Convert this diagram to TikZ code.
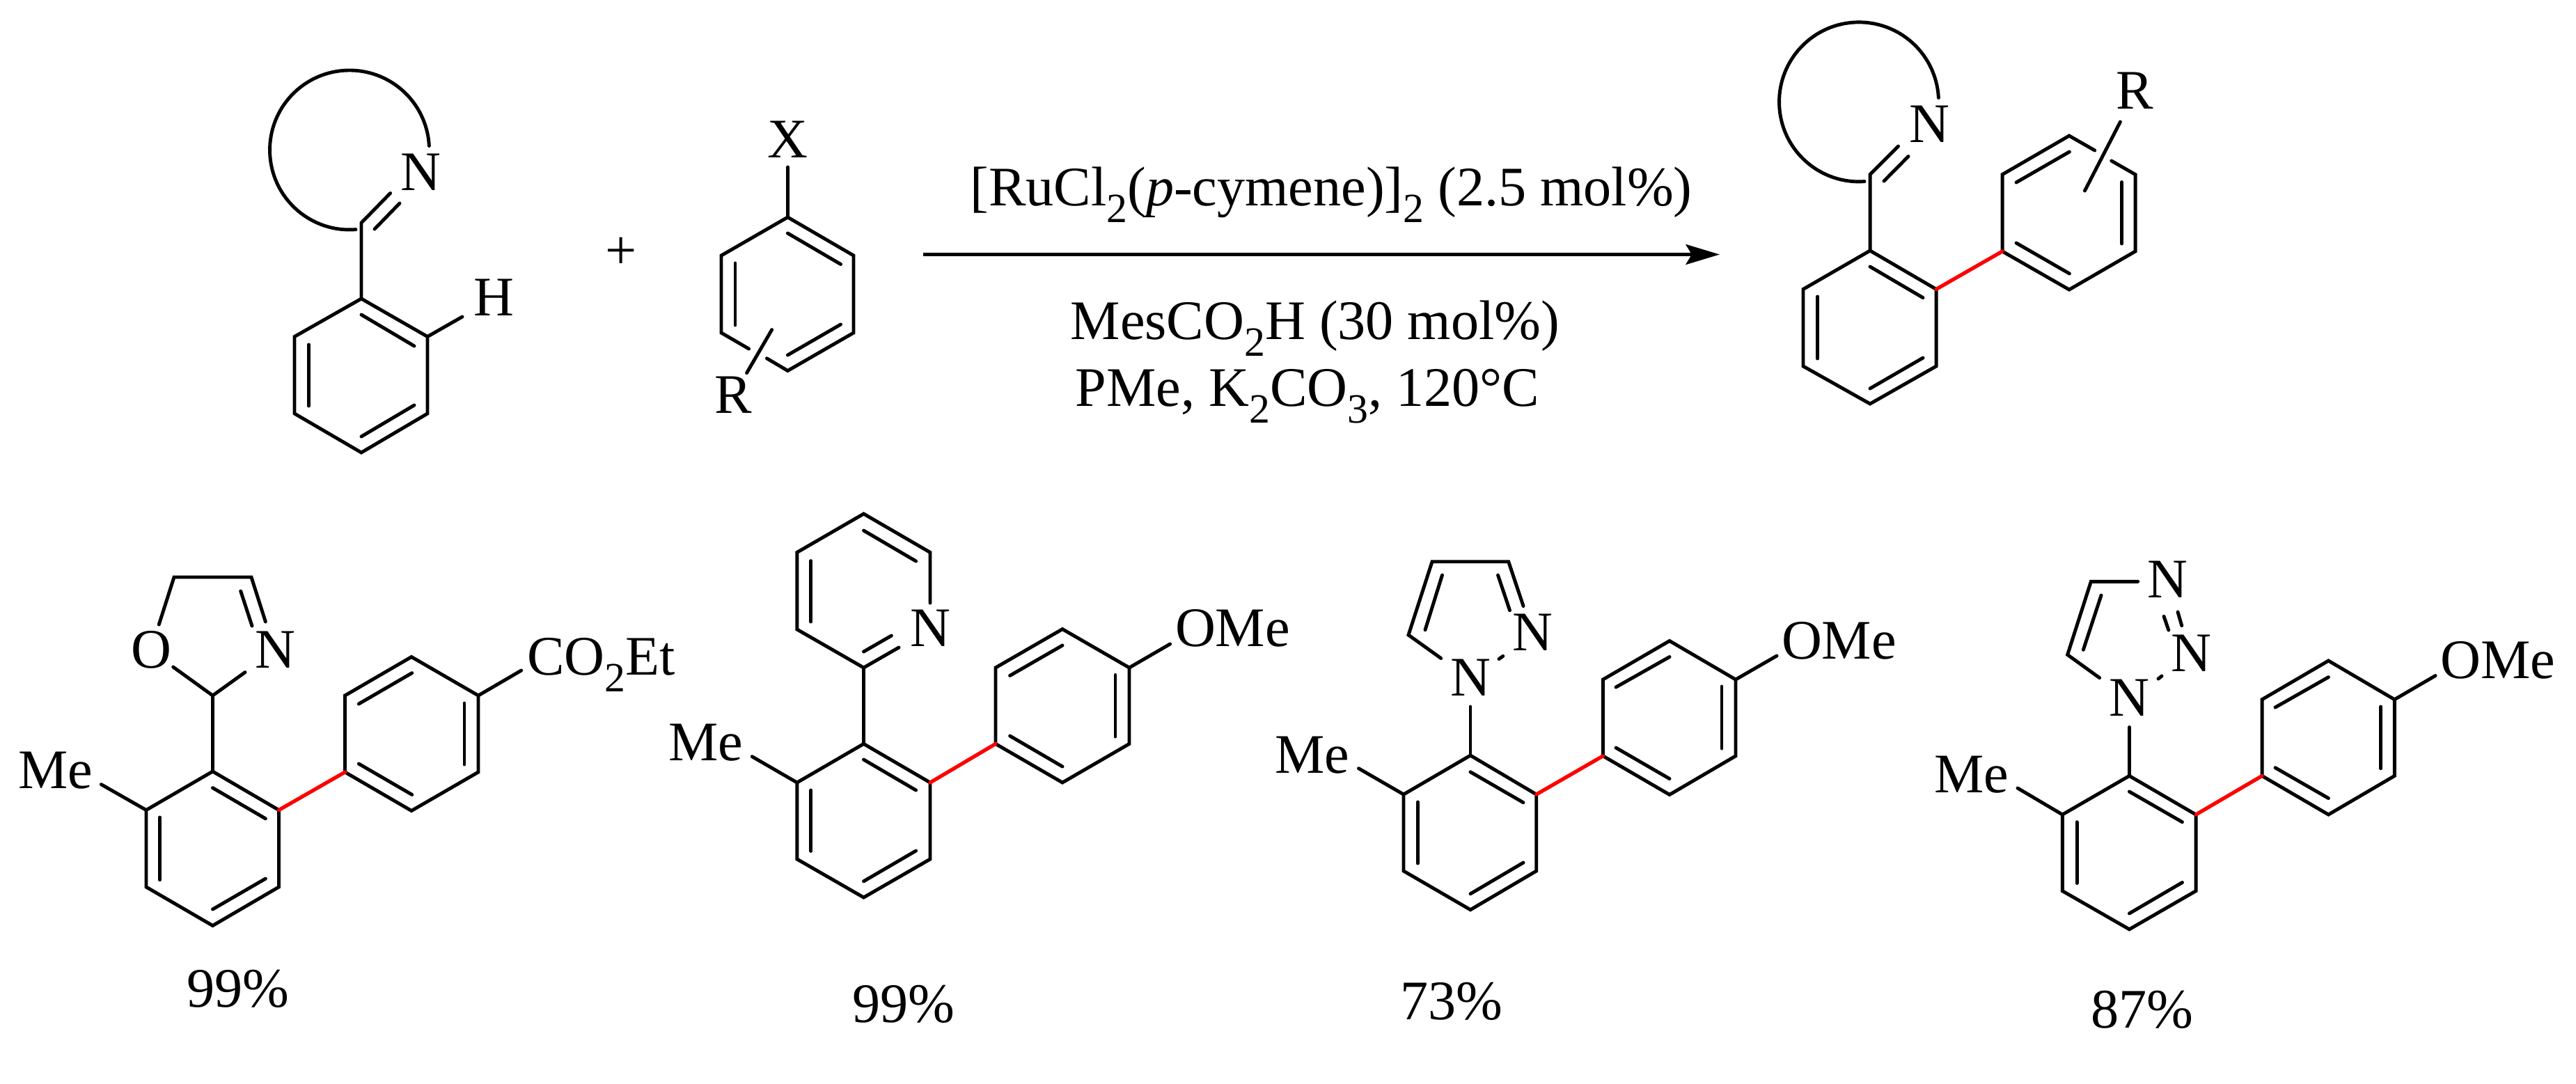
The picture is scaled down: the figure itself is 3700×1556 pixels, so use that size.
\documentclass[tikz,border=0pt]{standalone}
\usepackage{fontspec}
\setmainfont{Liberation Serif}
\usetikzlibrary{arrows.meta}
\newcommand\cc[3]{\coordinate (#1) at (#2,-#3);}
\newcommand\chemsub[1]{\raisebox{-0.31em}{\fontsize{17}{17}\selectfont #1}}
% hexagon: prefix xl xm xr; y top, y upper, y lower, y bottom
\newcommand\ring[8]{%
 \cc{#1t}{#3}{#5}\cc{#1ur}{#4}{#6}\cc{#1lr}{#4}{#7}\cc{#1b}{#3}{#8}\cc{#1ll}{#2}{#7}\cc{#1ul}{#2}{#6}%
 \draw[bond] (#1t)--(#1ur)--(#1lr)--(#1b)--(#1ll)--(#1ul)--cycle;}
\newcommand\inb[5]{\cc{#1a}{#2}{#3}\cc{#1b}{#4}{#5}\draw[bond] (#1a)--(#1b);}
\begin{document}
\begin{tikzpicture}[x=0.01cm,y=0.01cm,
  bond/.style={line width=1.4pt,line cap=round,line join=miter,black},
  redbond/.style={line width=1.5pt,line cap=round,red},
  lab/.style={inner sep=0pt,outer sep=0pt,anchor=base,font=\fontsize{22.8}{26}\selectfont},
  labw/.style={lab,anchor=base west},
  rxnarrow/.style={line width=1.5pt,-{Stealth[length=13.8pt,width=8.2pt,inset=2.4pt]}}]
\useasboundingbox (0,0) rectangle (3700,-1556);
\fill[white] (0,0) rectangle (3700,-1556);

% ===== Reagent 1
\ring{a}{423}{519}{614}{429}{483.5}{594}{650}
\cc{ai}{519}{320}\cc{an}{560.6}{277.5}\cc{ah}{664}{455}
\draw[bond] (at)--(ai)--(an);
\draw[bond] (aur)--(ah);
\inb{ad1}{519}{452}{595}{497}
\inb{ad2}{443.5}{495}{443.5}{583}
\inb{ad3}{519}{627}{595}{582}
\inb{ad4}{538}{329}{574}{292}
\cc{aarc}{511}{329.6}
\draw[bond] (aarc) arc[start angle=274.5,delta angle=-271.5,radius=114.5];
\node[lab] (aN) at (604,-273) {N};
\node[lab] (aH) at (709,-453) {H};
\node[lab] (plus) at (892,-386) {+};

% ===== Reagent 2
\cc{bt}{1131.4}{312}\cc{bur}{1226}{367}\cc{blr}{1226}{478}\cc{bb}{1131.4}{532.5}\cc{bll}{1036}{478}\cc{bul}{1036}{367}
\cc{bg1}{1075.6}{501}\cc{bg2}{1101.4}{514.7}\cc{bx}{1131.4}{240}
\draw[bond] (bg1)--(bll)--(bul)--(bt)--(bur)--(blr)--(bb)--(bg2);
\draw[bond] (bt)--(bx);
\inb{bd1}{1131.4}{335}{1207.5}{379.5}
\inb{bd2}{1056}{378}{1056}{467}
\inb{bd3}{1131.4}{510}{1207.5}{466}
\inb{br}{1108.6}{473.6}{1072.6}{535.6}
\node[lab] (bX) at (1131,-226) {X};
\node[lab] (bR) at (1053,-593) {R};

% ===== Arrow and conditions
\cc{arS}{1326}{365.5}\cc{arE}{2470}{365.5}
\draw[rxnarrow] (arS)--(arE);
\node[lab] (c1) at (1912,-295) {[RuCl\chemsub{2}(\textit{p}-cymene)]\chemsub{2} (2.5 mol\%)};
\node[lab] (c2) at (1889,-487) {MesCO\chemsub{2}H (30 mol\%)};
\node[lab] (c3) at (1878,-583) {PMe, K\chemsub{2}CO\chemsub{3}, 120°C};

% ===== Product
\ring{p}{2590}{2686}{2781}{360}{415.4}{526}{580}
\cc{pi}{2686}{250.6}\cc{pn}{2726.5}{210}
\draw[bond] (pt)--(pi)--(pn);
\inb{pd1}{2686}{383}{2762}{427.6}
\inb{pd2}{2610.7}{426}{2610.7}{515}
\inb{pd3}{2686}{558}{2762}{514}
\inb{pd4}{2706}{260}{2741}{224.6}
\cc{parc}{2678}{260.6}
\draw[bond] (parc) arc[start angle=274,delta angle=-271,radius=114.5];
\cc{qt}{2972}{195}\cc{qur}{3067}{250.6}\cc{qlr}{3067}{361}\cc{qb}{2972}{416}\cc{qll}{2876}{361}\cc{qul}{2876}{250.6}
\cc{qg1}{3008.7}{216}\cc{qg2}{3032.7}{231}
\draw[bond] (qg1)--(qt)--(qul)--(qll)--(qb)--(qlr)--(qur)--(qg2);
\draw[redbond] (pur)--(qll);
\inb{qd1}{2896}{262}{2972.4}{218}
\inb{qd2}{2896}{349}{2972.4}{393}
\inb{qd3}{3047.4}{261.5}{3047.4}{350}
\inb{qr}{3045.4}{175}{2994.4}{274}
\node[lab] (pN) at (2771,-204) {N};
\node[lab] (pR) at (3066,-156) {R};

% ===== Compound 1 (oxazoline)
\ring{d}{210}{305.5}{400.5}{1108}{1163.5}{1274}{1329.5}
\cc{dc}{305.5}{999}\cc{dox}{248.7}{958}\cc{dnx}{352}{965.6}
\cc{do1}{228.3}{897}\cc{do2}{250}{829}\cc{do3}{361}{829}\cc{do4}{381.4}{893}\cc{dme}{145.4}{1126.7}
\draw[bond] (dt)--(dc);
\draw[bond] (dox)--(dc)--(dnx);
\draw[bond] (do1)--(do2)--(do3)--(do4);
\draw[bond] (dul)--(dme);
\inb{dd0}{345.7}{849}{362}{899}
\inb{dd1}{305.5}{1131.6}{381.4}{1175.8}
\inb{dd2}{229.6}{1174}{229.6}{1263.7}
\inb{dd3}{305.5}{1306}{381.4}{1262}
\cc{et}{591}{943.5}\cc{eur}{687}{999}\cc{elr}{687}{1109}\cc{eb}{591}{1164.5}\cc{ell}{495.5}{1109}\cc{eul}{495.5}{999}
\draw[bond] (et)--(eur)--(elr)--(eb)--(ell)--(eul)--cycle;
\draw[redbond] (dur)--(ell);
\inb{ed1}{515.3}{1011}{591.8}{966.6}
\inb{ed2}{515.3}{1097}{591.8}{1141.4}
\inb{ed3}{667}{1010}{667}{1098}
\cc{eco}{748.7}{963}
\draw[bond] (eur)--(eco);
\node[lab] (dO) at (217,-959) {O};
\node[lab] (dN) at (395,-959) {N};
\node[lab] (dMe) at (80,-1132.6) {Me};
\node[labw] (eCO) at (757,-969) {CO\chemsub{2}Et};
\node[lab] (y1) at (342,-1446) {99\%};

% ===== Compound 2 (pyridine)
\ring{f}{1144.8}{1240.5}{1336}{1068.4}{1124}{1234}{1289}
\cc{gb}{1240.5}{959}\cc{gll}{1144.8}{904}\cc{gul}{1144.8}{793.4}\cc{gt}{1240.5}{738}\cc{gur}{1336}{793.4}\cc{gn1}{1336}{866}\cc{gn2}{1291}{930}
\draw[bond] (gn1)--(gur)--(gt)--(gul)--(gll)--(gb)--(gn2);
\draw[bond] (ft)--(gb);
\inb{gd1}{1240.5}{936}{1280.4}{913}
\inb{gd2}{1240.5}{762}{1315.6}{806}
\inb{gd3}{1164.8}{805.6}{1164.8}{893}
\inb{fd1}{1240.5}{1091}{1315.6}{1135}
\inb{fd2}{1164.8}{1135}{1164.8}{1222.4}
\inb{fd3}{1240.5}{1265.8}{1315.6}{1222}
\cc{fme}{1080.3}{1086.7}
\draw[bond] (ful)--(fme);
\ring{h}{1430}{1526}{1622}{903.6}{959}{1068.4}{1124}
\draw[redbond] (fur)--(hll);
\inb{hd1}{1450.6}{970.4}{1526}{927}
\inb{hd2}{1450.6}{1057}{1526}{1101}
\inb{hd3}{1602}{969.4}{1602}{1058}
\cc{home}{1680.6}{925}
\draw[bond] (hur)--(home);
\node[lab] (gN) at (1336,-928) {N};
\node[lab] (fMe) at (1014,-1092) {Me};
\node[labw] (hO) at (1688,-928.6) {OMe};
\node[lab] (y2) at (1298,-1468) {99\%};

% ===== Compound 3 (pyrazole)
\ring{k}{2016}{2112}{2206.7}{1085}{1141}{1251}{1306.7}
\cc{kn}{2112}{1015}\cc{m1}{2069.7}{945.5}\cc{m2}{2023}{912}\cc{m3}{2057}{806.7}\cc{m4}{2166.7}{806.7}\cc{m5}{2188}{870.5}
\draw[bond] (kt)--(kn);
\draw[bond] (m1)--(m2)--(m3)--(m4)--(m5);
\inb{md1}{2047}{904.7}{2071.5}{826}
\inb{md2}{2151.5}{826}{2168.5}{876.6}
\inb{md3}{2153}{946.5}{2158.8}{942.4}
\inb{kd1}{2112}{1108.8}{2188}{1152.7}
\inb{kd2}{2036.4}{1152}{2036.4}{1240}
\inb{kd3}{2112}{1283.8}{2188}{1239}
\cc{kme}{1951.5}{1103.7}
\draw[bond] (kul)--(kme);
\ring{l}{2302.4}{2398}{2493}{920.5}{976}{1085.8}{1141.4}
\draw[redbond] (kur)--(lll);
\inb{ld1}{2321}{987}{2398}{943.5}
\inb{ld2}{2321}{1074}{2398}{1118.5}
\inb{ld3}{2473}{986}{2473}{1075}
\cc{lome}{2552}{942}
\draw[bond] (lur)--(lome);
\node[lab] (mN1) at (2112,-999.6) {N};
\node[lab] (mN2) at (2201,-934.8) {N};
\node[lab] (kMe) at (1885,-1110) {Me};
\node[labw] (lO) at (2559,-946) {OMe};
\node[lab] (y3) at (2085,-1464) {73\%};

% ===== Compound 4 (triazole)
\ring{s}{2962.3}{3058.4}{3154}{1114.4}{1170}{1279.7}{1334.8}
\cc{sn}{3058.4}{1044.5}\cc{t1}{3015.6}{973.6}\cc{t2}{2969.6}{940.4}\cc{t3}{3003.3}{835.3}\cc{t4}{3070.7}{835.3}
\draw[bond] (st)--(sn);
\draw[bond] (t1)--(t2)--(t3)--(t4);
\inb{td1}{2992.3}{933.3}{3018}{855}
\inb{td2}{3128}{879}{3133.7}{898.6}
\inb{td3}{3108}{885.3}{3114.8}{905}
\inb{td4}{3100}{975}{3105}{971}
\inb{sd1}{3058.4}{1137}{3134.4}{1180.7}
\inb{sd2}{2983}{1180.7}{2983}{1268.5}
\inb{sd3}{3058.4}{1312}{3134.4}{1267.5}
\cc{sme}{2898}{1132}
\draw[bond] (sul)--(sme);
\ring{u}{3249}{3344.4}{3439.3}{949}{1004.7}{1114.4}{1170}
\draw[redbond] (sur)--(ull);
\inb{ud1}{3268}{1016}{3344.4}{972.6}
\inb{ud2}{3268}{1102.7}{3344.4}{1146.5}
\inb{ud3}{3419.7}{1015}{3419.7}{1103.7}
\cc{uome}{3498}{970.5}
\draw[bond] (uur)--(uome);
\node[lab] (tN1) at (3058.4,-1028.7) {N};
\node[lab] (tN2) at (3147,-964) {N};
\node[lab] (tN3) at (3113.5,-858.8) {N};
\node[lab] (sMe) at (2832,-1138) {Me};
\node[labw] (uO) at (3505.5,-974) {OMe};
\node[lab] (y4) at (3077,-1476) {87\%};
\end{tikzpicture}
\end{document}
